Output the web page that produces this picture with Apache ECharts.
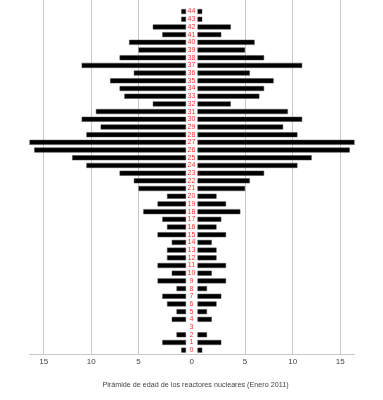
<!DOCTYPE html>
<html>
<head>
<meta charset="utf-8">
<script src="https://cdn.jsdelivr.net/npm/echarts@6/dist/echarts.min.js"></script>
<style>
html,body{margin:0;padding:0;background:#fff;}
#c{width:383px;height:400px;}
</style>
</head>
<body>
<div id="c"></div>
<script>
// Ages (years since grid connection)
const ages = [0,1,2,3,4,5,6,7,8,9,10,11,12,13,14,15,16,17,18,19,20,21,22,23,24,25,26,27,28,29,30,31,32,33,34,35,36,37,38,39,40,41,42,43,44];
// Half of the number of reactors of each age (drawn on both sides)
const halfCounts = [0.5,2.5,1,0,1.5,1,2,2.5,1,3,1.5,3,2,2,1.5,3,2,2.5,4.5,3,2,5,5.5,7,10.5,12,16,16.5,10.5,9,11,9.5,3.5,6.5,7,8,5.5,11,7,5,6,2.5,3.5,0.5,0.5];
const tickValues = [0,5,10,15];
const axisMax = 16.5;
const titleText = 'Pirámide de edad de los reactores nucleares (Enero 2011)';

const cats = ages.map(String).concat(['']);
const barData = halfCounts.map(v => v === 0 ? '-' : v);

const chart = echarts.init(document.getElementById('c'), null, {renderer:'canvas'});
const xCommon = {
  type:'value', min:0, max:axisMax, interval:5,
  axisLine:{show:true, lineStyle:{color:'#c8c8c8', width:1}},
  axisTick:{show:false},
  splitLine:{show:true, showMinLine:false, showMaxLine:false, lineStyle:{color:'#c8c8c8', width:1}},
  axisLabel:{color:'#444', fontSize:8, fontFamily:'Liberation Sans, Arial, sans-serif', margin:4,
    showMaxLabel:false, showMinLabel:false,
    formatter:v => tickValues.indexOf(v) > 0 ? String(v) : ''}
};
const barStyle = {color:'#000', borderColor:'#444', borderWidth:0.5};
chart.setOption({
  animation:false,
  grid:[
    {left:29.5, width:156.5, top:0, bottom:46},
    {left:197.5, width:157, top:0, bottom:46}
  ],
  xAxis:[
    Object.assign({gridIndex:0, inverse:true}, xCommon),
    Object.assign({gridIndex:1}, xCommon)
  ],
  yAxis:[
    {type:'category', gridIndex:0, data:cats, show:false},
    {type:'category', gridIndex:1, data:cats, axisLine:{show:false}, axisTick:{show:false},
     axisLabel:{interval:0, color:'#ff3030', fontSize:7, align:'center', margin:6,
       fontFamily:'Liberation Sans Narrow, Liberation Sans, Arial, sans-serif'}}
  ],
  series:[
    {type:'bar', xAxisIndex:0, yAxisIndex:0, data:barData, barWidth:5, itemStyle:barStyle},
    {type:'bar', xAxisIndex:1, yAxisIndex:1, data:barData, barWidth:5, itemStyle:barStyle}
  ],
  graphic:[
    {type:'line', shape:{x1:186, y1:354.5, x2:197.5, y2:354.5}, style:{stroke:'#c8c8c8', lineWidth:1}, silent:true},
    {type:'text', x:191.7, y:362, style:{text:'0', fill:'#444', fontSize:8, fontFamily:'Liberation Sans, Arial, sans-serif', align:'center', verticalAlign:'middle'}},
    {type:'text', x:195.5, y:385, style:{text:titleText, fill:'#444', fontSize:7.2, fontFamily:'Liberation Sans, Arial, sans-serif', align:'center', verticalAlign:'middle'}}
  ]
});
</script>
</body>
</html>
